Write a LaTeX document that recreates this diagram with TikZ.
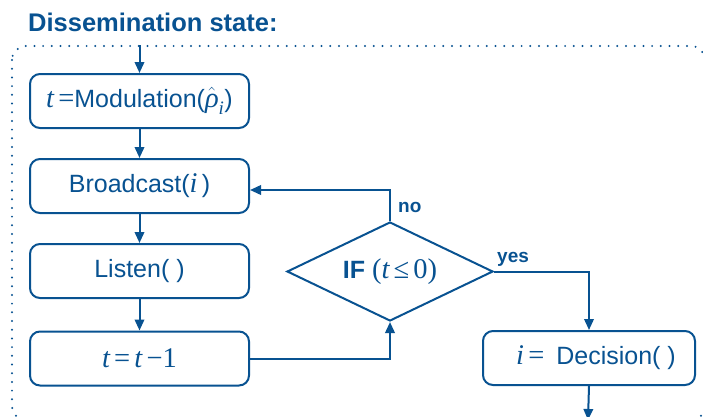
\documentclass[tikz,border=0pt]{standalone}
\usepackage{amsmath}
\usepackage{fontspec}
\setmainfont{Liberation Sans}
\newfontfamily\tms{Liberation Serif}
% serif symbols, set a little larger than the sans words
\newcommand{\tv}[1]{{\tms\itshape\fontsize{28.5}{30}\selectfont #1}}
\newcommand{\tr}[1]{{\tms\fontsize{28.5}{30}\selectfont #1}}
\newcommand{\tsub}[1]{{\tms\itshape\fontsize{19}{20}\selectfont #1}}
\usetikzlibrary{arrows.meta,shapes.geometric}
\definecolor{flowblue}{RGB}{8,82,145}
\begin{document}
\begin{tikzpicture}[x=1pt,y=-1pt,
  every node/.style={text=flowblue},
  procbox/.style={draw=flowblue,line width=2pt,rounded corners=10pt,
    minimum width=219pt,minimum height=54pt,inner sep=0pt,
    font=\fontsize{25}{30}\selectfont},
  testbox/.style={draw=flowblue,line width=2pt,diamond,aspect=2.08,
    minimum width=206pt,minimum height=99pt,inner sep=0pt,
    font=\fontsize{25}{30}\selectfont},
  flow/.style={draw=flowblue,line width=2pt,-{Triangle[length=11pt,width=9.5pt]}},
  branch/.style={font=\bfseries\fontsize{19}{22}\selectfont,inner sep=0pt},
  frame/.style={draw=flowblue,line width=2.2pt,line cap=round,
    dash pattern=on 0pt off 8.7pt,rounded corners=14pt}]
\useasboundingbox (0,0) rectangle (703,416);
\clip (0,0) rectangle (703,416);

% heading
\node[anchor=base west,inner sep=0pt,font=\bfseries\fontsize{25.5}{30}\selectfont]
  (title) at (28,31) {Dissemination state:};

% dotted frame of the state
\draw[frame] (12,46) rectangle (705,420);

% process steps
\node[procbox] (mod) at (139.5,101)
  {\tv{t}\,\tr{=}Modulation($\hat{\text{\tv{ρ}}}_{\text{\tsub{i}}}$)};
\node[procbox] (bc) at (139.5,186) {Broadcast(\tv{i}\,)};
\node[procbox] (lst) at (139.5,271) {Listen(\ )};
\node[procbox] (dec) at (139.5,358.5) {\tv{t}\,\tr{=}\,\tv{t}\,\tr{−1}};
\node[testbox] (test) at (390,271.5) {\textbf{IF} \tr{(}\tv{t}\,\tr{≤}\,\tr{0)}};
\node[procbox,minimum width=212pt] (decide) at (589,358)
  {\hspace{14pt}\tv{i}\,\tr{=}\hspace{12pt}Decision(\ )};

\coordinate (entry) at (139.5,45);
\coordinate (exit) at (588,420);

% connectors
\draw[flow] (entry) -- (mod.north);
\draw[flow] (mod.south) -- (bc.north);
\draw[flow] (bc.south) -- (lst.north);
\draw[flow] (lst.south) -- (dec.north);
\draw[flow] (dec.east) -| (test.south);
\draw[flow] (test.north) |- ([yshift=-4pt]bc.east);
\draw[flow] (test.east) -| (decide.north);
\draw[flow] (decide.south) -- (exit);

% branch labels
\node[branch,anchor=west] (nolbl) at (398,207) {no};
\node[branch,anchor=base west] (yeslbl) at (497,262) {yes};
\end{tikzpicture}
\end{document}
